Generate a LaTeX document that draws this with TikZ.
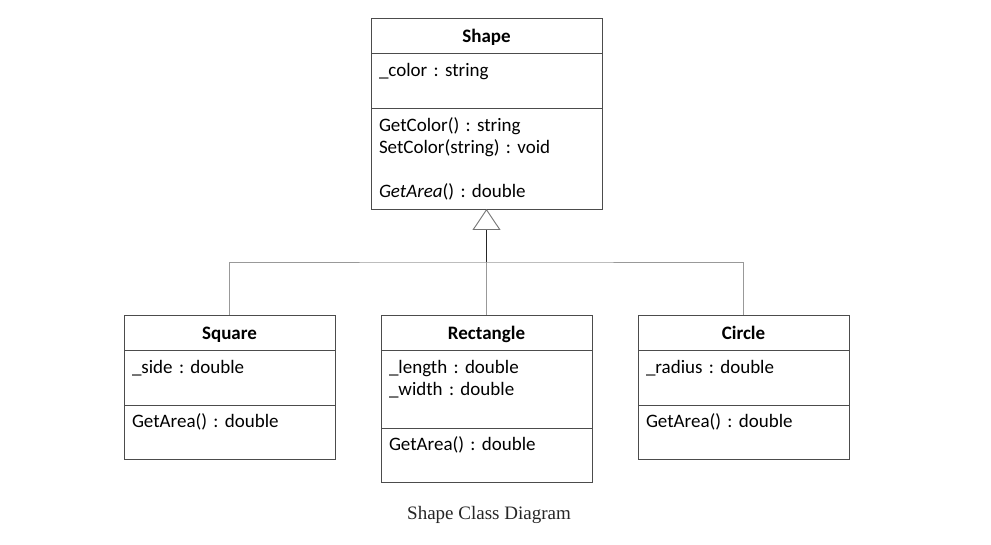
\documentclass[tikz,border=0pt]{standalone}
\usepackage{fontspec}
\setmainfont{Carlito}
\newfontfamily\capfont{Liberation Serif}
\usetikzlibrary{positioning,arrows.meta}
\frenchspacing

\tikzset{
  cls/.style={draw=black!70, line width=0.9pt, outer sep=0pt, inner xsep=8pt, inner ysep=0pt,
    text=black, font=\fontsize{19}{22}\selectfont, align=left},
  head/.style={cls, align=center, minimum height=35, text height=17pt, text depth=2pt,
    font=\fontsize{19}{22}\selectfont\bfseries},
  link/.style={draw=black!40, line width=0.9pt},
}

\begin{document}
\begin{tikzpicture}[x=1pt,y=1pt]
  \useasboundingbox (0,0) rectangle (991,-545);

  % base class
  \node[head, text width=215pt] (shape) at (486.5,-35.5) {Shape};
  \node[cls, text width=215pt, minimum height=55, below=0pt of shape] (shape-a) {\_color : string\\ \mbox{}};
  \node[cls, text width=215pt, minimum height=101, below=0pt of shape-a] (shape-o)
    {GetColor() : string\\ SetColor(string) : void\\ \mbox{}\\ \textit{GetArea}() : double};

  % derived classes
  \node[head, text width=195pt] (sq) at (229.5,-332.5) {Square};
  \node[cls, text width=195pt, minimum height=55, below=0pt of sq] (sq-a) {\_side : double\\ \mbox{}};
  \node[cls, text width=195pt, minimum height=54, below=0pt of sq-a] (sq-o) {GetArea() : double\\ \mbox{}};

  \node[head, text width=195pt] (re) at (486.5,-332.5) {Rectangle};
  \node[cls, text width=195pt, minimum height=78, below=0pt of re] (re-a) {\_length : double\\ \_width : double\\ \mbox{}};
  \node[cls, text width=195pt, minimum height=54, below=0pt of re-a] (re-o) {GetArea() : double\\ \mbox{}};

  \node[head, text width=195pt] (ci) at (743.5,-332.5) {Circle};
  \node[cls, text width=195pt, minimum height=55, below=0pt of ci] (ci-a) {\_radius : double\\ \mbox{}};
  \node[cls, text width=195pt, minimum height=54, below=0pt of ci-a] (ci-o) {GetArea() : double\\ \mbox{}};

  % inheritance
  \coordinate (bus) at (486.5,-262);
  \draw[link] (sq.north) |- (bus) -| (ci.north);
  \draw[link] (re.north) -- (bus);
  \draw[black!85, line width=1.4pt,
    -{Triangle[open, length=21pt, width=28pt, color=black!55, line width=0.9pt]}] (bus) -- (shape-o.south);

  \node[font=\capfont\fontsize{19}{22}\selectfont, text=black!85] (cap) at (489,-515) {Shape Class Diagram};
\end{tikzpicture}
\end{document}
